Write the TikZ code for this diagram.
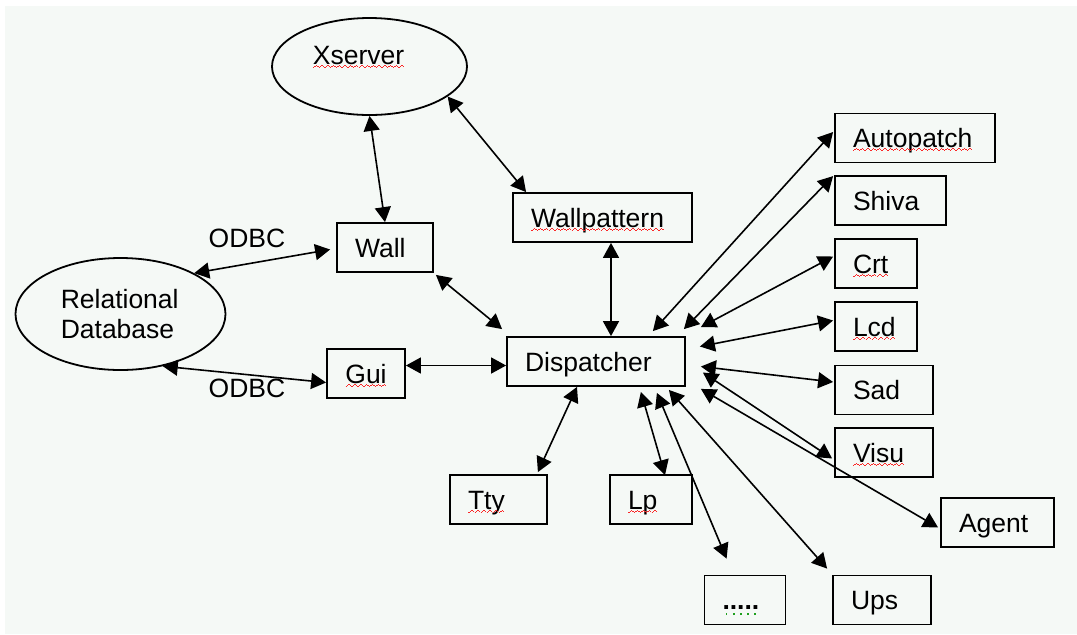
\documentclass[tikz,border=0pt]{standalone}
\usepackage{fontspec}
\setmainfont{Liberation Sans}
\usepackage{tikz}
\usetikzlibrary{arrows.meta,shapes.geometric,calc}

\definecolor{paper}{RGB}{245,249,246}
\definecolor{spellred}{RGB}{250,40,40}
\definecolor{grammargreen}{RGB}{30,160,30}

\newcommand{\spell}[1]{\mbox{\setbox0=\hbox{#1}\rlap{#1}\textcolor{spellred}{\xleaders\hbox{\rule[-1.9pt]{0.7pt}{0.55pt}\rule[-1.4pt]{0.7pt}{0.55pt}\rule[-0.9pt]{0.7pt}{0.55pt}\rule[-1.4pt]{0.7pt}{0.55pt}}\hskip\wd0}}}
\newcommand{\grammar}[1]{\mbox{\setbox0=\hbox{#1}\rlap{#1}\textcolor{grammargreen}{\xleaders\hbox{\hskip1.2pt\rule[-2.8pt]{0.9pt}{0.9pt}\hskip1.2pt}\hskip\wd0}}}

\begin{document}
\begin{tikzpicture}[x=0.5pt,y=-0.5pt,
    font=\fontsize{13.25}{15}\selectfont,
    box/.style={draw, line width=0.9pt, inner xsep=9pt, inner ysep=0pt, minimum height=24.5pt,
        text width=#1, align=left, text height=9.5pt, text depth=0pt},
    oval/.style={draw, ellipse, line width=0.9pt, inner sep=0pt},
    link/.style={{Triangle[length=7.5pt,width=8pt]}-{Triangle[length=7.5pt,width=8pt]}, line width=0.8pt}]
    \useasboundingbox (0,0) rectangle (1077,634);
    \fill[paper] (5,6) rectangle (1077,634);

    \node[oval, minimum width=97.5pt, minimum height=48.5pt, text depth=11pt] (xs) at (369.5,66.5) {\spell{Xserver}\hspace*{11pt}};
    \node[oval, minimum width=105pt, minimum height=56pt, align=left] (rdb) at (120.5,314) {Relational\\Database\hspace*{3pt}};

    \node[box=30pt] (wall) at (385,247.5) {Wall};
    \node[box=71.5pt] (wp) at (602.5,217.5) {\spell{Wallpattern}};
    \node[box=21pt, align=center] (gui) at (366,373.5) {\spell{Gui}};
    \node[box=71pt] (disp) at (596,361.5) {Dispatcher};
    \node[box=62pt] (auto) at (915,138) {\spell{Autopatch}};
    \node[box=37.5pt] (shiva) at (890.5,200.5) {Shiva};
    \node[box=23pt] (crt) at (876,263.5) {\spell{Crt}};
    \node[box=23pt] (lcd) at (876,326.5) {\spell{Lcd}};
    \node[box=31pt] (sad) at (884,390) {Sad};
    \node[box=31pt] (visu) at (884,452.5) {\spell{Visu}};
    \node[box=38.5pt] (agent) at (997.5,522.5) {Agent};
    \node[box=31pt] (ups) at (882,600) {Ups};
    \node[box=22.5pt] (more) at (745,600) {\grammar{\textbf{.....}}};
    \node[box=23pt] (lp) at (651,499.5) {\spell{Lp}};
    \node[box=30.5pt] (tty) at (498.5,499.5) {\spell{Tty}};

    \node (odbcup) at (247,238) {ODBC};
    \node (odbcdown) at (247,388) {ODBC};

    \draw[link] (xs.south) -- (wall.north);
    \draw[link] (xs.-21) -- ($(wp.north west)+(14,0)$);
    \draw[link] (rdb.29) -- ($(wall.west)+(-6,2)$);
    \draw[link] (rdb.-51) -- ($(gui.west)+(0,9)$);
    \draw[link] ($(gui.east)+(0,-8)$) -- ($(disp.west)+(0,4)$);
    \draw[link] ($(wall.south east)+(2,2)$) -- ($(disp.north west)+(-4,-7)$);
    \draw[link] ($(wp.south)+(8.5,0)$) -- ($(disp.north)+(15,0)$);

    \draw[link] ($(disp.north east)+(-33,-5)$) -- ($(auto.west)+(-1,-6)$);
    \draw[link] ($(disp.north east)+(-2,-7)$) -- ($(shiva.north west)+(-1,1)$);
    \draw[link] ($(disp.north east)+(15,-9)$) -- ($(crt.west)+(-1,-7)$);
    \draw[link] ($(disp.east)+(14,-15)$) -- ($(lcd.west)+(-1,-6)$);
    \draw[link] ($(disp.east)+(15,5)$) -- ($(sad.west)+(-1,-8)$);
    \draw[link] ($(disp.east)+(17,11)$) -- ($(visu.west)+(-2,6)$);
    \draw[link] ($(disp.south east)+(15,2)$) -- ($(agent.west)+(-2,5)$);
    \draw[link] ($(disp.south east)+(-17,3)$) -- ($(ups.north west)+(-5,-6)$);
    \draw[link] ($(disp.south east)+(-29,6)$) -- ($(more.north west)+(23,-16)$);
    \draw[link] ($(disp.south east)+(-45,5)$) -- ($(lp.north)+(14,1)$);
    \draw[link] ($(disp.south)+(-19,0)$) -- ($(tty.north east)+(-10,-2)$);
\end{tikzpicture}
\end{document}
